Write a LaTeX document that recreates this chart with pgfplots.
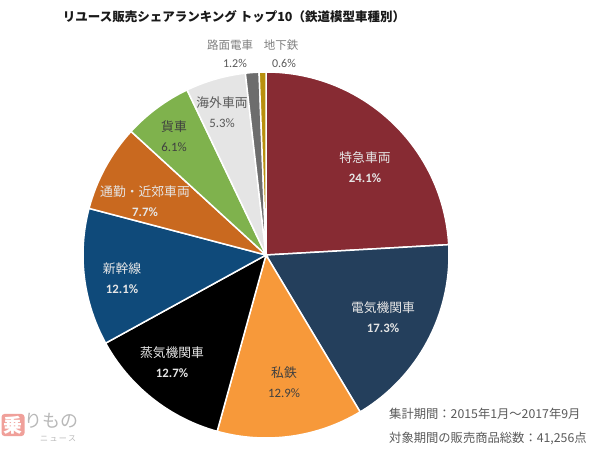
\documentclass[border=0pt]{standalone}
\usepackage{pgfplots}
\pgfplotsset{compat=1.18}
\usepackage{pgfplotstable}
\usepackage{fontspec}
\setmainfont{Carlito}
\newfontfamily\jp{Noto Sans CJK JP}

\definecolor{cTokkyu}{HTML}{872B33}
\definecolor{cDenki}{HTML}{243F5C}
\definecolor{cShitetsu}{HTML}{F7993A}
\definecolor{cJoki}{HTML}{000000}
\definecolor{cShinkansen}{HTML}{0F4A7A}
\definecolor{cTsukin}{HTML}{C9691F}
\definecolor{cKasha}{HTML}{7FB24D}
\definecolor{cKaigai}{HTML}{E5E5E5}
\definecolor{cRomen}{HTML}{6D6D6D}
\definecolor{cChika}{HTML}{B8900E}
\definecolor{lblLight}{HTML}{E6E6E6}
\definecolor{lblDark}{HTML}{404040}
\definecolor{lblGray}{HTML}{595959}
\definecolor{lblOut}{HTML}{7F7F7F}
\definecolor{wmred}{HTML}{F0A09A}
\definecolor{wmgray}{HTML}{B8B8B8}

% share in percent, clockwise from 12 o'clock
\pgfplotstableread[col sep=comma]{
share,color
24.1,cTokkyu
17.3,cDenki
12.9,cShitetsu
12.7,cJoki
12.1,cShinkansen
7.7,cTsukin
6.1,cKasha
5.3,cKaigai
1.2,cRomen
0.6,cChika
}\pietable

\def\cx{266}
\def\cy{255}
\def\rr{183}

\begin{document}
\begin{tikzpicture}
\begin{axis}[
  width=600pt, height=450pt, scale only axis,
  xmin=0, xmax=600, ymin=0, ymax=450, y dir=reverse,
  hide axis, clip=false,
]
\xdef\cum{0}
\pgfplotsinvokeforeach{0,...,9}{
  \pgfplotstablegetelem{#1}{share}\of\pietable
  \let\v\pgfplotsretval
  \pgfplotstablegetelem{#1}{color}\of\pietable
  \let\col\pgfplotsretval
  \pgfmathsetmacro\aa{90-3.6*\cum}
  \pgfmathsetmacro\bb{90-3.6*(\cum+\v)}
  \edef\doslice{\noexpand\filldraw[fill=\col, draw=white, line width=1.5pt]
    (axis cs:\cx,\cy) -- ++(\aa:\rr pt) arc[start angle=\aa, end angle=\bb, radius=\rr pt] -- cycle;}
  \doslice
  \pgfmathsetmacro\newcum{\cum+\v}
  \xdef\cum{\newcum}
}

% title
\node[font=\jp\bfseries\fontsize{12.5}{14}\selectfont, text=black!90] at (axis cs:234,17)
  {リユース販売シェアランキング トップ10（鉄道模型車種別）};

% data labels
\tikzset{lbl/.style={align=center, font=\fontsize{12.8}{19.5}\selectfont}}
\node[lbl, text=lblLight] at (axis cs:365,167) {{\jp 特急車両}\\\textbf{24.1\%}};
\node[lbl, text=lblLight] at (axis cs:383,317) {{\jp 電気機関車}\\\textbf{17.3\%}};
\node[lbl, text=lblDark]  at (axis cs:284,382) {{\jp 私鉄}\\12.9\%};
\node[lbl, text=lblLight] at (axis cs:172,362) {{\jp 蒸気機関車}\\\textbf{12.7\%}};
\node[lbl, text=lblLight] at (axis cs:122,278) {{\jp 新幹線}\\\textbf{12.1\%}};
\node[lbl, text=lblLight] at (axis cs:145,201) {{\jp 通勤・近郊車両}\\\textbf{7.7\%}};
\node[lbl, text=lblDark]  at (axis cs:174,136) {{\jp 貨車}\\6.1\%};
\node[lbl, text=lblGray]  at (axis cs:222,112) {{\jp 海外車両}\\5.3\%};
\node[lbl, text=lblOut, font=\jp\fontsize{11.5}{12}\selectfont] at (axis cs:230,45) {路面電車};
\node[lbl, text=lblGray, font=\fontsize{12}{12}\selectfont] at (axis cs:235,63) {1.2\%};
\node[lbl, text=lblOut, font=\jp\fontsize{11.5}{12}\selectfont] at (axis cs:281,45) {地下鉄};
\node[lbl, text=lblGray, font=\fontsize{12}{12}\selectfont] at (axis cs:284,63) {0.6\%};

% notes
\node[anchor=west, text=lblGray, font=\jp\fontsize{12.3}{14}\selectfont, inner sep=0pt] at (axis cs:389,414)
  {集計期間：2015年1月～2017年9月};
\node[anchor=west, text=lblGray, font=\jp\fontsize{12.3}{14}\selectfont, inner sep=0pt] at (axis cs:389,438)
  {対象期間の販売商品総数：41,256点};

% watermark
\node[fill=wmred, rounded corners=3pt, text=white, inner sep=2pt, font=\jp\bfseries\fontsize{19}{19}\selectfont] at (axis cs:13,425) {乗};
\node[anchor=west, text=wmgray, font=\jp\fontsize{18}{18}\selectfont, inner sep=0pt] at (axis cs:24,421) {りもの};
\node[anchor=west, text=wmgray, font=\jp\fontsize{8}{8}\selectfont, inner sep=0pt] at (axis cs:40,439) {ニ\,ュ\,ー\,ス};
\end{axis}
\pgfresetboundingbox
\path[use as bounding box] (current axis.south west) rectangle (current axis.north east);
\end{tikzpicture}
\end{document}
